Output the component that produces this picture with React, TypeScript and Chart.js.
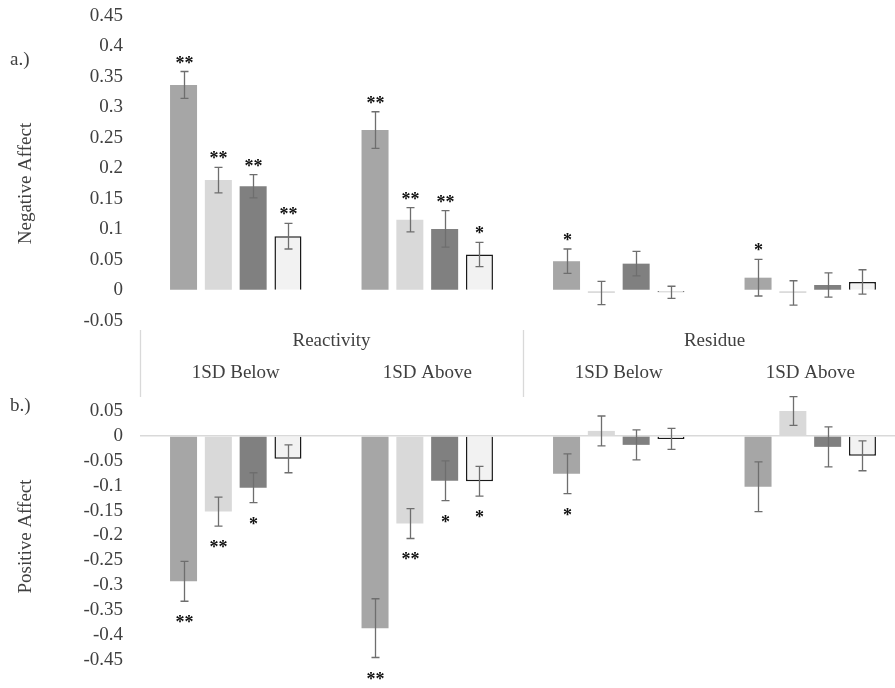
import React, { useEffect, useRef } from "react";
import { Chart, registerables } from "chart.js";

Chart.register(...registerables);

// ---------- data ----------
const categories = ["Reactivity 1SD Below", "Reactivity 1SD Above", "Residue 1SD Below", "Residue 1SD Above"];
const groupLabels = ["Reactivity", "Residue"];
const subLabels = ["1SD Below", "1SD Above", "1SD Below", "1SD Above"];
const seriesNames = ["Series 1", "Series 2", "Series 3", "Series 4"];

// Negative affect (panel a): one row per series, one column per category
const negMeans = [
  [0.337, 0.263, 0.048, 0.021],
  [0.181, 0.116, -0.004, -0.004],
  [0.171, 0.101, 0.044, 0.009],
  [0.089, 0.059, -0.003, 0.014],
];
const negErrors = [
  [0.022, 0.03, 0.02, 0.03],
  [0.021, 0.02, 0.019, 0.02],
  [0.019, 0.03, 0.02, 0.02],
  [0.021, 0.02, 0.01, 0.02],
];
const negSig = [
  ["**", "**", "*", "*"],
  ["**", "**", "", ""],
  ["**", "**", "", ""],
  ["**", "*", "", ""],
];

// Positive affect (panel b)
const posMeans = [
  [-0.292, -0.386, -0.076, -0.102],
  [-0.152, -0.176, 0.01, 0.05],
  [-0.104, -0.09, -0.018, -0.022],
  [-0.046, -0.091, -0.006, -0.04],
];
const posErrors = [
  [0.04, 0.059, 0.04, 0.05],
  [0.029, 0.03, 0.03, 0.029],
  [0.03, 0.04, 0.03, 0.04],
  [0.028, 0.03, 0.021, 0.03],
];
const posSig = [
  ["**", "**", "*", ""],
  ["**", "**", "", ""],
  ["*", "*", "", ""],
  ["", "*", "", ""],
];

const negRange = [-0.05, 0.45];
const posRange = [-0.45, 0.05];
const tickStep = 0.05;

// ---------- styles ----------
const SERIF = "'Liberation Serif', 'Times New Roman', serif";
const fills = ["#a6a6a6", "#d9d9d9", "#808080", "#f2f2f2"];
const borders = ["#a6a6a6", "#d9d9d9", "#808080", "#1a1a1a"];
const borderWidths = [0, 0, 0, 1.5];
const TEXT = "#404040";
const FONT_SIZE = 19;

function errorPlugin(errs: number[][], sigs: string[][], below: boolean) {
  return {
    id: "errbars",
    afterDatasetsDraw(chart: any) {
      const ctx = chart.ctx;
      const ys = chart.scales.y;
      ctx.save();
      chart.data.datasets.forEach((ds: any, i: number) => {
        const meta = chart.getDatasetMeta(i);
        meta.data.forEach((bar: any, j: number) => {
          const v = ds.data[j] as number;
          const e = errs[i][j];
          const yTop = ys.getPixelForValue(v + e);
          const yBot = ys.getPixelForValue(v - e);
          const x = Math.round(bar.x) + 0.5;
          ctx.strokeStyle = "#6e6e6e";
          ctx.lineWidth = 1.3;
          ctx.beginPath();
          ctx.moveTo(x, yTop);
          ctx.lineTo(x, yBot);
          ctx.moveTo(x - 4, yTop);
          ctx.lineTo(x + 4, yTop);
          ctx.moveTo(x - 4, yBot);
          ctx.lineTo(x + 4, yBot);
          ctx.stroke();
          const s = sigs[i][j];
          if (s) {
            ctx.fillStyle = "#111111";
            ctx.font = `bold 18px ${SERIF}`;
            ctx.textAlign = "center";
            ctx.textBaseline = "alphabetic";
            const cy = below ? yBot + 17 : yTop - 13;
            ctx.fillText(s, x, cy + 10);
          }
        });
      });
      ctx.restore();
    },
  };
}

function labelPlugin(panel: string, title: string, titleDy: number, header: boolean) {
  return {
    id: "labels",
    afterDraw(chart: any) {
      const ctx = chart.ctx;
      const area = chart.chartArea;
      const xs = chart.scales.x;
      ctx.save();
      ctx.fillStyle = TEXT;
      ctx.font = `${FONT_SIZE}px ${SERIF}`;
      ctx.textAlign = "left";
      ctx.textBaseline = "middle";
      ctx.fillText(panel, 10, area.top + (header ? 44 : -5));
      // rotated axis title
      ctx.save();
      ctx.translate(26, (area.top + area.bottom) / 2 + titleDy);
      ctx.rotate(-Math.PI / 2);
      ctx.textAlign = "center";
      ctx.fillText(title, 0, 0);
      ctx.restore();
      if (header) {
        const yTop = area.bottom + 9;
        const yBot = area.bottom + 76;
        ctx.strokeStyle = "#d9d9d9";
        ctx.lineWidth = 1.3;
        ctx.beginPath();
        [-0.5, 1.5, 3.5].forEach((p) => {
          const x = Math.round(xs.getPixelForValue(p)) + 0.5;
          ctx.moveTo(x, yTop);
          ctx.lineTo(x, yBot);
        });
        ctx.stroke();
        ctx.textAlign = "center";
        groupLabels.forEach((g, k) => {
          ctx.fillText(g, xs.getPixelForValue(k * 2 + 0.5), area.bottom + 20);
        });
        subLabels.forEach((s, k) => {
          ctx.fillText(s, xs.getPixelForValue(k), area.bottom + 52);
        });
      }
      ctx.restore();
    },
  };
}

function makeConfig(
  means: number[][],
  errs: number[][],
  sigs: string[][],
  range: number[],
  isTop: boolean
): any {
  return {
    type: "bar",
    data: {
      labels: categories,
      datasets: means.map((row, i) => ({
        label: seriesNames[i],
        data: row,
        backgroundColor: fills[i],
        borderColor: borders[i],
        borderWidth: borderWidths[i],
        categoryPercentage: 0.727,
        barPercentage: 0.776,
      })),
    },
    options: {
      responsive: false,
      animation: false,
      layout: { padding: isTop ? { top: 16, bottom: 79, left: 0, right: 0 } : { top: 27, bottom: 28, left: 0, right: 0 } },
      plugins: { legend: { display: false }, tooltip: { enabled: false } },
      scales: {
        x: { display: false, offset: true },
        y: {
          min: range[0],
          max: range[1],
          afterFit(scale: any) {
            scale.width = 140;
          },
          border: { display: false },
          grid: {
            display: true,
            drawTicks: true,
            tickLength: 17,
            tickColor: "rgba(0,0,0,0)",
            lineWidth: 1.5,
            color: (c: any) =>
              !isTop && c.tick && Math.abs(c.tick.value) < 1e-9 ? "#d9d9d9" : "rgba(0,0,0,0)",
          },
          ticks: {
            stepSize: tickStep,
            padding: 0,
            autoSkip: false,
            color: TEXT,
            font: { family: SERIF, size: FONT_SIZE },
            callback: (v: any) => String(Number(Number(v).toFixed(2))),
          },
        },
      },
    },
    plugins: [
      errorPlugin(errs, sigs, !isTop),
      isTop ? labelPlugin("a.)", "Negative Affect", 15, true) : labelPlugin("b.)", "Positive Affect", 1, false),
    ],
  };
}

export default function App() {
  const topRef = useRef<HTMLCanvasElement | null>(null);
  const botRef = useRef<HTMLCanvasElement | null>(null);

  useEffect(() => {
    const c1 = new Chart(topRef.current as HTMLCanvasElement, makeConfig(negMeans, negErrors, negSig, negRange, true));
    const c2 = new Chart(botRef.current as HTMLCanvasElement, makeConfig(posMeans, posErrors, posSig, posRange, false));
    return () => {
      c1.destroy();
      c2.destroy();
    };
  }, []);

  return (
    <div
      style={{
        position: "fixed",
        left: 0,
        top: 0,
        width: 895,
        height: 688,
        overflow: "hidden",
        background: "#fff",
      }}
    >
      <canvas
        ref={topRef}
        width={906}
        height={400}
        style={{ position: "absolute", left: 0, top: 0, width: 906, height: 400, display: "block" }}
      />
      <canvas
        ref={botRef}
        width={906}
        height={304}
        style={{ position: "absolute", left: 0, top: 384, width: 906, height: 304, display: "block" }}
      />
    </div>
  );
}
